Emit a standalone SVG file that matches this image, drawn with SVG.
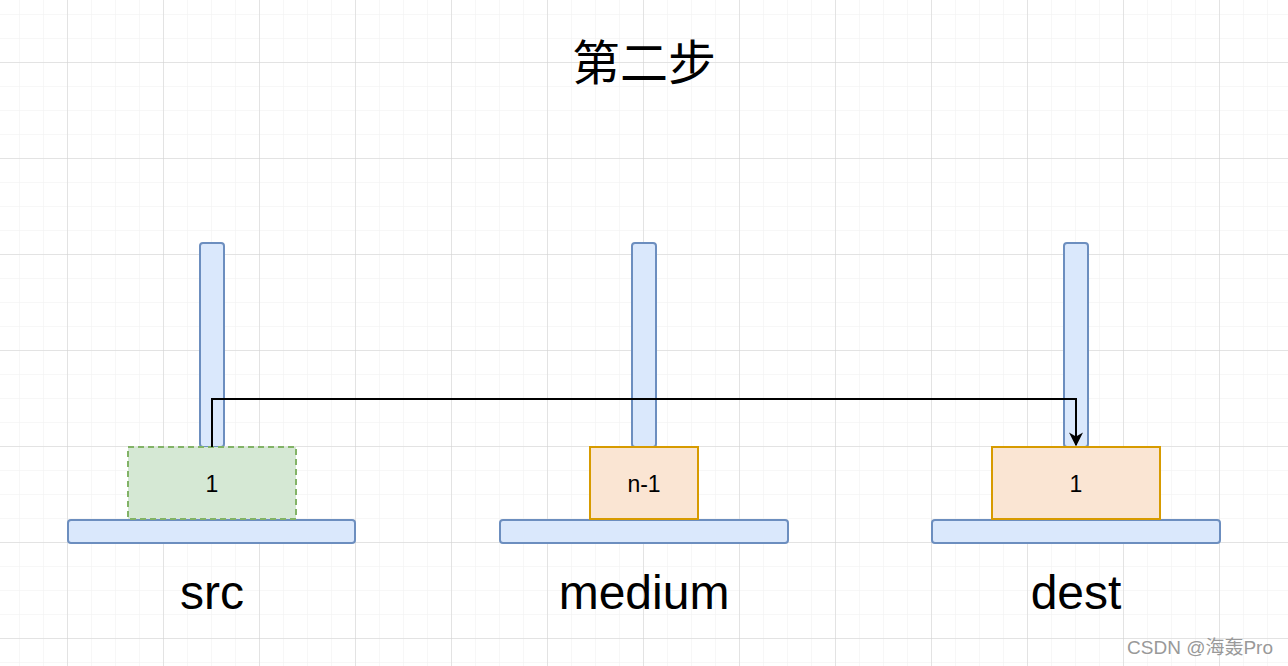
<svg xmlns="http://www.w3.org/2000/svg" width="1288" height="666" viewBox="0 0 1288 666">
<defs>
<pattern id="minor" x="19" y="14" width="24" height="24" patternUnits="userSpaceOnUse"><path d="M0 0V24M0 0H24" stroke="#f0f0f0" stroke-width="1" fill="none"/></pattern>
<pattern id="major" x="67" y="62" width="96" height="96" patternUnits="userSpaceOnUse"><path d="M0 0V96M0 0H96" stroke="#d0d0d0" stroke-width="1" fill="none"/></pattern>
<marker id="arr" viewBox="0 0 10 10" refX="9" refY="5" markerWidth="7" markerHeight="7" orient="auto"><path d="M0 0L10 5L0 10L3 5Z" fill="#000"/></marker>
</defs>
<style>
.peg{fill:#dae8fc;stroke:#6c8ebf;stroke-width:2}
.disk{fill:#fae5d3;stroke:#d79b00;stroke-width:2}
.t{font-family:"Liberation Sans",Arial,sans-serif;text-anchor:middle;fill:#000}
.d{font-size:23px}
.l{font-size:48px}
</style>
<rect width="1288" height="666" fill="#fff"/>
<rect width="1288" height="666" fill="url(#minor)"/>
<rect width="1288" height="666" fill="url(#major)"/>
<text class="t" x="644" y="80" font-size="48" style="font-family:'Noto Sans CJK SC',sans-serif">第二步</text>
<g id="src">
<rect class="peg" x="200" y="243" width="24" height="204" rx="3"/>
<rect class="peg" x="68" y="520" width="287" height="23" rx="3"/>
<rect x="128" y="447" width="168" height="72" fill="#d5e8d4" stroke="#82b366" stroke-width="2" stroke-dasharray="6 4"/>
<text class="t d" x="212" y="492">1</text>
<text class="t l" x="212" y="609">src</text>
</g>
<g id="medium">
<rect class="peg" x="632" y="243" width="24" height="204" rx="3"/>
<rect class="peg" x="500" y="520" width="288" height="23" rx="3"/>
<rect class="disk" x="590" y="447" width="108" height="72"/>
<text class="t d" x="644" y="492">n-1</text>
<text class="t l" x="644" y="609">medium</text>
</g>
<g id="dest">
<rect class="peg" x="1064" y="243" width="24" height="204" rx="3"/>
<rect class="peg" x="932" y="520" width="288" height="23" rx="3"/>
<rect class="disk" x="992" y="447" width="168" height="72"/>
<text class="t d" x="1076" y="492">1</text>
<text class="t l" x="1076" y="609">dest</text>
</g>
<g id="connectors">
<path d="M212 447V399H1076V445" fill="none" stroke="#000" stroke-width="2" marker-end="url(#arr)"/>
</g>
<text x="1273" y="654" font-size="19" text-anchor="end" fill="#999" style="font-family:'Liberation Sans','Noto Sans CJK SC',sans-serif">CSDN @海轰Pro</text>
</svg>
